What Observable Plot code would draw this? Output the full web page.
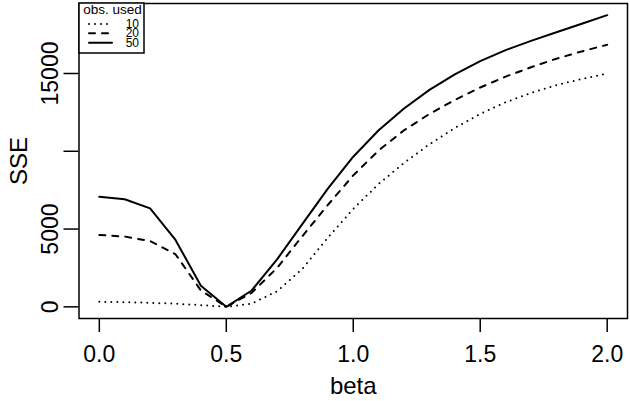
<!DOCTYPE html>
<html>
<head>
<meta charset="utf-8">
<script src="https://cdn.jsdelivr.net/npm/d3@7"></script>
<script src="https://cdn.jsdelivr.net/npm/@observablehq/plot@0.6"></script>
<style>
  html, body { margin: 0; padding: 0; background: #fff; }
  svg { display: block; }
</style>
</head>
<body>
<div id="chart"></div>
<script>
const beta = [0.0, 0.1, 0.2, 0.3, 0.4, 0.5, 0.6, 0.7, 0.8, 0.9, 1.0, 1.1, 1.2, 1.3, 1.4, 1.5, 1.6, 1.7, 1.8, 1.9, 2.0];
const sse10 = [320, 300, 260, 200, 110, 0, 200, 1000, 2450, 4450, 6300, 7900, 9250, 10450, 11500, 12400, 13150, 13750, 14250, 14650, 15000];
const sse20 = [4620, 4520, 4230, 3380, 1050, 0, 900, 2500, 4550, 6550, 8450, 10050, 11350, 12400, 13300, 14100, 14800, 15400, 15950, 16420, 16850];
const sse50 = [7070, 6920, 6330, 4300, 1350, 0, 1050, 3050, 5330, 7600, 9650, 11350, 12750, 13950, 14950, 15800, 16500, 17100, 17650, 18200, 18750];

const seriesNames = ["10", "20", "50"];
const seriesValues = [sse10, sse20, sse50];
const seriesDash = ["0,6", "6,7", null];

const xTicks = [0, 0.5, 1.0, 1.5, 2.0];
const xTickLabels = ["0.0", "0.5", "1.0", "1.5", "2.0"];
const yTicks = [0, 5000, 10000, 15000];
const yTickLabels = ["0", "5000", "", "15000"];
const xLabel = "beta";
const yLabel = "SSE";
const legendTitle = "obs. used";

const rows = [];
seriesNames.forEach((name, i) => {
  beta.forEach((b, j) => rows.push({series: name, beta: b, sse: seriesValues[i][j]}));
});
const yLabelRows = yTicks.map((v, i) => ({v, label: yTickLabels[i]})).filter(d => d.label !== "");

const font = "'Liberation Sans', Arial, Helvetica, sans-serif";

const lineMarks = seriesNames.map((name, i) =>
  Plot.line(rows.filter(d => d.series === name), {
    x: "beta", y: "sse",
    stroke: "black", strokeWidth: 2,
    strokeDasharray: seriesDash[i] ?? undefined,
    strokeLinecap: "round", strokeLinejoin: "round"
  })
);

const chart = Plot.plot({
  width: 630,
  height: 401,
  marginLeft: 78.5,
  marginRight: 3,
  marginTop: 3,
  marginBottom: 83,
  style: {fontFamily: font, fontSize: "23px", color: "black", background: "white", overflow: "visible"},
  x: {domain: [-0.08, 2.08]},
  y: {domain: [-750, 19500]},
  marks: [
    ...lineMarks,
    Plot.frame({stroke: "black", strokeWidth: 1.5}),
    Plot.axisX({ticks: xTicks, tickSize: 14, tickPadding: 13, strokeWidth: 1.5,
      tickFormat: (d) => xTickLabels[xTicks.indexOf(d)], fontSize: 23, label: null}),
    Plot.axisY({ticks: yTicks, tickSize: 15, strokeWidth: 1.5, tickFormat: () => "", label: null}),
    Plot.text(yLabelRows, {y: "v", text: "label", frameAnchor: "left", dx: -28.5, rotate: -90,
      textAnchor: "middle", lineAnchor: "middle", fontSize: 23, fill: "black"}),
    Plot.text([yLabel], {frameAnchor: "left", dx: -60, rotate: -90, textAnchor: "middle",
      lineAnchor: "middle", fontSize: 24, fill: "black"}),
    Plot.text([xLabel], {frameAnchor: "bottom", dy: 75, textAnchor: "middle",
      lineAnchor: "bottom", fontSize: 24, fill: "black"})
  ]
});

document.getElementById("chart").appendChild(chart);

// Legend (R-style box, top-left inside the plot)
const svg = d3.select(chart);
const lg = svg.append("g").attr("font-family", font);
const lx = 79, ly = 3, lw = 65, lh = 50;
lg.append("rect").attr("x", lx).attr("y", ly).attr("width", lw).attr("height", lh)
  .attr("fill", "white").attr("stroke", "black").attr("stroke-width", 1.5);
lg.append("text").attr("x", lx + lw / 2 + 1).attr("y", 14).attr("text-anchor", "middle")
  .attr("font-size", 13.5).attr("fill", "black").text(legendTitle);
const rowY = [24, 33.3, 42.7];
seriesNames.forEach((name, i) => {
  lg.append("line").attr("x1", 89).attr("x2", 112).attr("y1", rowY[i]).attr("y2", rowY[i])
    .attr("stroke", "black").attr("stroke-width", 2).attr("stroke-linecap", "round")
    .attr("stroke-dasharray", seriesDash[i]);
  lg.append("text").attr("x", 139).attr("y", rowY[i] + 4).attr("text-anchor", "end")
    .attr("font-size", 12).attr("fill", "black").text(name);
});
</script>
</body>
</html>
